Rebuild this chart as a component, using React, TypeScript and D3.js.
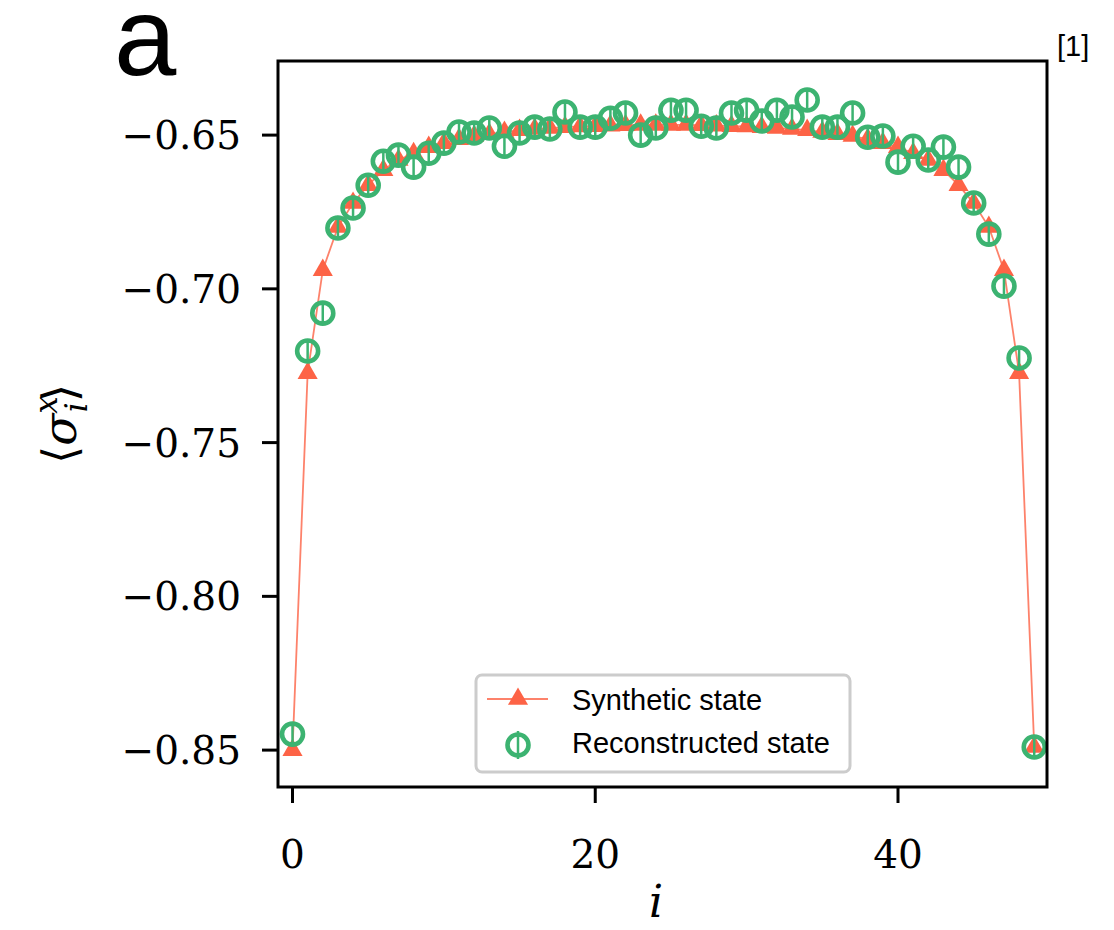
import React from 'react';
import * as d3 from 'd3';

// Synthetic state <sigma_i^x>
const synthetic = [
  -0.8500, -0.7274, -0.6939, -0.6799, -0.6721, -0.6663, -0.6614, -0.6581, -0.6559, -0.6539,
  -0.6526, -0.6513, -0.6503, -0.6497, -0.6490, -0.6484, -0.6480, -0.6477, -0.6474, -0.6472,
  -0.6471, -0.6469, -0.6468, -0.6467, -0.6467, -0.6467, -0.6467, -0.6468, -0.6469, -0.6471,
  -0.6472, -0.6474, -0.6477, -0.6480, -0.6484, -0.6490, -0.6497, -0.6503, -0.6513, -0.6526,
  -0.6539, -0.6559, -0.6581, -0.6614, -0.6663, -0.6721, -0.6799, -0.6939, -0.7274, -0.8490,
];

// Reconstructed state <sigma_i^x>
const reconstructed = [
  -0.8448, -0.7202, -0.7079, -0.6802, -0.6737, -0.6663, -0.6585, -0.6565, -0.6604, -0.6559,
  -0.6526, -0.6490, -0.6493, -0.6477, -0.6536, -0.6493, -0.6474, -0.6480, -0.6425, -0.6474,
  -0.6474, -0.6445, -0.6428, -0.6500, -0.6477, -0.6419, -0.6419, -0.6471, -0.6477, -0.6428,
  -0.6419, -0.6454, -0.6419, -0.6441, -0.6386, -0.6474, -0.6474, -0.6428, -0.6507, -0.6503,
  -0.6588, -0.6536, -0.6581, -0.6539, -0.6604, -0.6721, -0.6822, -0.6991, -0.7225, -0.8490,
];

const sites = synthetic.map((_, i) => i);
const xTicks = [0, 20, 40];
const yTicks = [-0.85, -0.8, -0.75, -0.7, -0.65];
const legendLabels = ['Synthetic state', 'Reconstructed state'];

const RED = '#fd6346';
const GREEN = '#3cb371';

export default function App() {
  const W = 1114;
  const H = 930;
  const left = 278, right = 1047, top = 61, bottom = 787;

  const x = d3.scaleLinear().domain([0, 40]).range([292.5, 898]);
  const y = d3.scaleLinear().domain([-0.862, -0.6259]).range([bottom, top]);

  const line = d3.line<number>().x((_, i) => x(sites[i])).y((d) => y(d));
  const tri = d3.symbol().type(d3.symbolTriangle).size(175)();
  const fmt = (v: number) => d3.format('.2f')(v).replace('-', '\u2212');

  return (
    <svg width={W} height={H} style={{ position: 'absolute', left: 0, top: 0, background: '#fff' }}>
      <rect x={0} y={0} width={W} height={H} fill="#fff" />
      {/* panel label */}
      <text x={114} y={75} fontFamily="Liberation Sans, Arial, sans-serif" fontSize={112} fill="#000">a</text>
      <text x={1057} y={56} fontFamily="Liberation Sans, Arial, sans-serif" fontSize={29} fill="#000">[1]</text>

      {/* synthetic series */}
      <path d={line(synthetic) || ''} fill="none" stroke={RED} strokeOpacity={0.8} strokeWidth={1.8} />
      {synthetic.map((v, i) => (
        <path key={'t' + i} d={tri || ''} transform={`translate(${x(sites[i])},${y(v)})`} fill={RED} />
      ))}

      {/* reconstructed series */}
      {reconstructed.map((v, i) => (
        <g key={'c' + i} transform={`translate(${x(sites[i])},${y(v)})`}>
          <line x1={0} x2={0} y1={-9} y2={9} stroke={GREEN} strokeWidth={2.5} />
          <circle r={10.5} fill="none" stroke={GREEN} strokeWidth={4.6} />
        </g>
      ))}

      {/* frame */}
      <rect x={left} y={top} width={right - left} height={bottom - top} fill="none" stroke="#000" strokeWidth={3} />

      {/* y ticks */}
      {yTicks.map((t) => (
        <g key={'y' + t}>
          <line x1={left - 16} x2={left} y1={y(t)} y2={y(t)} stroke="#000" strokeWidth={3} />
          <text x={241} y={y(t)} dy="0.36em" textAnchor="end" fontFamily="DejaVu Serif, serif" fontSize={39} fill="#000">
            {fmt(t)}
          </text>
        </g>
      ))}

      {/* x ticks */}
      {xTicks.map((t) => (
        <g key={'x' + t}>
          <line x1={x(t)} x2={x(t)} y1={bottom} y2={bottom + 16} stroke="#000" strokeWidth={3} />
          <text x={x(t)} y={868} textAnchor="middle" fontFamily="DejaVu Serif, serif" fontSize={39} fill="#000">
            {t}
          </text>
        </g>
      ))}

      {/* axis labels */}
      <text x={656} y={917} textAnchor="middle" fontFamily="DejaVu Serif, serif" fontStyle="italic" fontSize={44} fill="#000">i</text>
      <text transform="translate(76,424) rotate(-90)" textAnchor="middle" fontFamily="DejaVu Serif, serif" fontSize={47} fill="#000">
        <tspan>⟨</tspan>
        <tspan fontStyle="italic">σ</tspan>
        <tspan fontStyle="italic" fontSize={31} dy={-19}>x</tspan>
        <tspan fontStyle="italic" fontSize={31} dx={-16} dy={30}>i</tspan>
        <tspan dy={-11}>⟩</tspan>
      </text>

      {/* legend */}
      <rect x={476} y={675} width={374} height={97} rx={6} fill="#fff" fillOpacity={0.8} stroke="#cccccc" strokeWidth={3} />
      <line x1={487} x2={548} y1={699} y2={699} stroke={RED} strokeOpacity={0.8} strokeWidth={1.8} />
      <path d={tri || ''} transform="translate(518,699)" fill={RED} />
      <text x={572} y={710} fontFamily="Liberation Sans, Arial, sans-serif" fontSize={29} fill="#000">{legendLabels[0]}</text>
      <g transform="translate(518,745)">
        <line x1={0} x2={0} y1={-14} y2={14} stroke={GREEN} strokeWidth={2.5} />
        <circle r={10.5} fill="none" stroke={GREEN} strokeWidth={4.6} />
      </g>
      <text x={572} y={753} fontFamily="Liberation Sans, Arial, sans-serif" fontSize={29} fill="#000">{legendLabels[1]}</text>
    </svg>
  );
}
